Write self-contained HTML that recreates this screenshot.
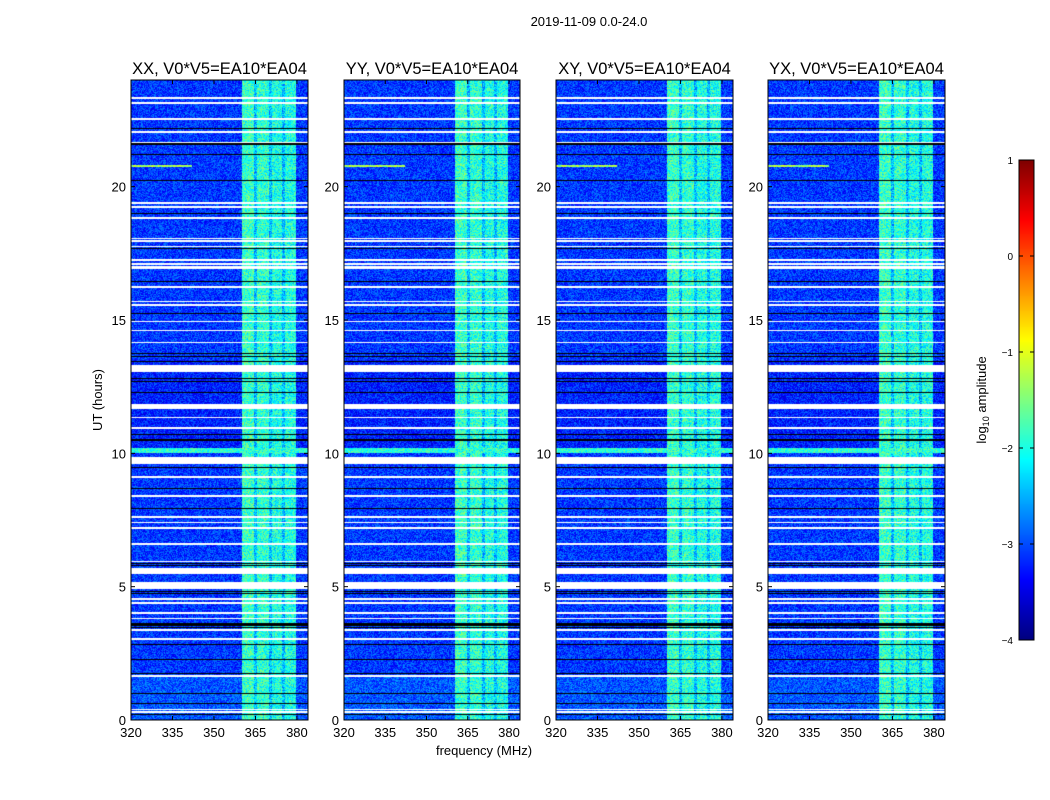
<!DOCTYPE html>
<html><head><meta charset="utf-8">
<style>
body{margin:0;background:#fff;width:1050px;height:800px;overflow:hidden;position:relative;font-family:"Liberation Sans",sans-serif}
canvas{position:absolute}
svg{position:absolute;left:0;top:0}
text{font-family:"Liberation Sans",sans-serif}
</style></head><body>
<canvas id="c0" width="177" height="640" style="left:131px;top:80px"></canvas>
<canvas id="c1" width="176" height="640" style="left:344px;top:80px"></canvas>
<canvas id="c2" width="177" height="640" style="left:556px;top:80px"></canvas>
<canvas id="c3" width="177" height="640" style="left:768px;top:80px"></canvas>
<canvas id="cb" width="15" height="480" style="left:1019px;top:160px"></canvas>
<svg id="ov" width="1050" height="800"></svg>
<script>
// ---- data ----
const panelTitles=["XX, V0*V5=EA10*EA04","YY, V0*V5=EA10*EA04","XY, V0*V5=EA10*EA04","YX, V0*V5=EA10*EA04"];
const panelLefts=[131,344,556,768];
const freqTicks=[320,335,350,365,380];
const hourTicks=[0,5,10,15,20];
const cbTicks=[1,0,-1,-2,-3,-4];
const whiteFlags=[[23.3,23.38],[23.1,23.17],[22.5,22.58],[22.0,22.08],[21.62,21.68],[19.35,19.41],[19.2,19.26],[18.8,18.87],[18.03,18.09],[17.94,18.0],[17.72,17.78],[17.22,17.28],[17.07,17.13],[16.92,17.02],[16.2,16.26],[15.66,15.72],[15.53,15.59],[14.91,14.97],[14.57,14.63],[14.12,14.18],[13.05,13.3],[11.66,11.84],[11.32,11.38],[10.91,10.97],[9.6,9.87],[9.09,9.15],[8.38,8.44],[7.59,7.65],[7.37,7.43],[7.16,7.22],[6.56,6.62],[5.91,5.97],[5.48,5.69],[4.9,5.19],[4.51,4.57],[4.35,4.41],[3.97,4.06],[3.78,3.84],[3.34,3.4],[3.01,3.07],[1.62,1.68],[0.37,0.43],[0.26,0.32]];
const blackRows=[22.19,21.6,21.2,20.22,19.0,17.69,16.44,15.25,13.75,13.62,13.44,12.81,12.69,12.28,10.71,10.5,9.46,8.69,7.94,5.94,5.86,5.79,4.81,4.75,3.6,3.53,3.47,2.84,2.27,1.75,1.0,0.62,0.19];
const bandSegments=[[360.3,364.6,-1.85],[365.7,370.0,-1.9],[371.1,374.7,-2.0],[375.6,379.6,-2.0]];
const bandRange=[360.3,379.6];
const bandGapLevel=-2.45;
const baseLevel=-3.1;
const darkPeriod=[10.2,13.5,-3.22];
const lightPeriod=[0,1.6,-2.95];
const rfiRows=[[10.0,10.2,-1.9,320,384],[20.74,20.8,-1.3,320,342],[16.2,16.26,-1.4,340,350]];
// ---- scales ----
const F0=320,F1=384,H0=0,H1=24;
function jet(t){t=Math.max(0,Math.min(1,t));
 const r=Math.max(0,Math.min(1,Math.min(4*t-1.5,-4*t+4.5)));
 const g=Math.max(0,Math.min(1,Math.min(4*t-0.5,-4*t+3.5)));
 const b=Math.max(0,Math.min(1,Math.min(4*t+0.5,-4*t+2.5)));
 return [r*255|0,g*255|0,b*255|0];}
function hash(x,y,s){let h=(x*374761393+y*668265263+s*982451653)|0;h=(h^(h>>>13))*1274126177|0;h^=h>>>16;return ((h>>>0)%10000)/10000;}
function drawPanel(id,seed){
 const cv=document.getElementById(id),ctx=cv.getContext('2d'),W=cv.width,Hh=cv.height;
 const img=ctx.createImageData(W,Hh);
 const fx=x=>F0+(x+0.5)/W*(F1-F0), hy=y=>H1-(y+0.5)/Hh*(H1-H0);
 for(let y=0;y<Hh;y++){const h=hy(y);
  let base=baseLevel; if(h>=darkPeriod[0]&&h<darkPeriod[1])base=darkPeriod[2]; if(h>=lightPeriod[0]&&h<lightPeriod[1])base=lightPeriod[2];
  let white=whiteFlags.some(w=>h>=w[0]&&h<=w[1]);
  let black=blackRows.some(b=>Math.abs(h-b)<0.019);
  for(let x=0;x<W;x++){const f=fx(x);let v=base,o=(y*W+x)*4,inBand=false;
   if(f>=bandRange[0]&&f<=bandRange[1]){inBand=true;v=bandGapLevel;for(const s of bandSegments)if(f>=s[0]&&f<=s[1])v=s[2];}
   for(const r of rfiRows)if(h>=r[0]&&h<=r[1]&&f>=r[3]&&f<=r[4])v=Math.max(v,r[2]);
   v+=(hash(x,y,seed)-0.5)*(inBand?1.0:0.8);
   let c=jet((v+4)/5);
   if(black)c=[0,0,0]; if(white)c=[255,255,255];
   img.data[o]=c[0];img.data[o+1]=c[1];img.data[o+2]=c[2];img.data[o+3]=255;}}
 ctx.putImageData(img,0,0);}
["c0","c1","c2","c3"].forEach((id,i)=>drawPanel(id,i+1));
(function(){const cv=document.getElementById('cb'),ctx=cv.getContext('2d');
 for(let y=0;y<480;y++){const c=jet(1-y/479);ctx.fillStyle=`rgb(${c[0]},${c[1]},${c[2]})`;ctx.fillRect(0,y,15,1);}})();
// ---- overlay ----
const ns="http://www.w3.org/2000/svg",ov=document.getElementById('ov');
function el(t,a,txt){const e=document.createElementNS(ns,t);for(const k in a)e.setAttribute(k,a[k]);if(txt!==undefined)e.textContent=txt;ov.appendChild(e);return e;}
const T=80,B=720;
panelLefts.forEach((L,i)=>{
 const W=(i==1?176:177),R=L+W;
 const xs=f=>L+(f-F0)/(F1-F0)*W, ys=h=>B-(h-H0)/(H1-H0)*(B-T);
 const fr=el('rect',{x:L,y:T,width:W,height:B-T,fill:'none',stroke:'#000','stroke-width':1});
 
 
 const tt=el('text',{x:L+W/2,y:74,'text-anchor':'middle','font-size':16.5},panelTitles[i]);
 
 
 freqTicks.forEach(f=>{const x=xs(f);
  el('line',{x1:x,x2:x,y1:B,y2:B-4,stroke:'#000'});el('line',{x1:x,x2:x,y1:T,y2:T+4,stroke:'#000'});
  const lb=el('text',{x:x,y:737,'text-anchor':'middle','font-size':13},f);
  
  });
 hourTicks.forEach(h=>{const y=ys(h);
  el('line',{x1:L,x2:L+4,y1:y,y2:y,stroke:'#000'});el('line',{x1:R,x2:R-4,y1:y,y2:y,stroke:'#000'});
  const lb=el('text',{x:L-5,y:y+5,'text-anchor':'end','font-size':13},h);
  
  });
});
const st=el('text',{x:589,y:26,'text-anchor':'middle','font-size':13},'2019-11-09 0.0-24.0');


const xl=el('text',{x:484,y:755,'text-anchor':'middle','font-size':13},'frequency (MHz)');


const yl=el('text',{x:0,y:0,'text-anchor':'middle','font-size':13,transform:'translate(102,400) rotate(-90)'},'UT (hours)');


const cbf=el('rect',{x:1019,y:160,width:15,height:480,fill:'none',stroke:'#000'});


cbTicks.forEach(v=>{const y=160+(1-v)/5*480;
 el('line',{x1:1019,x2:1023,y1:y,y2:y,stroke:'#000'});el('line',{x1:1034,x2:1030,y1:y,y2:y,stroke:'#000'});
 const lb=el('text',{x:1013,y:y+4,'text-anchor':'end','font-size':10},v<0?'\u2212'+(-v):v);
 
 });
const cl=el('text',{x:0,y:0,'text-anchor':'middle','font-size':13,transform:'translate(986,400) rotate(-90)'});
cl.innerHTML='log<tspan font-size="9" dy="3">10</tspan><tspan dy="-3"> amplitude</tspan>';


</script>
</body></html>
